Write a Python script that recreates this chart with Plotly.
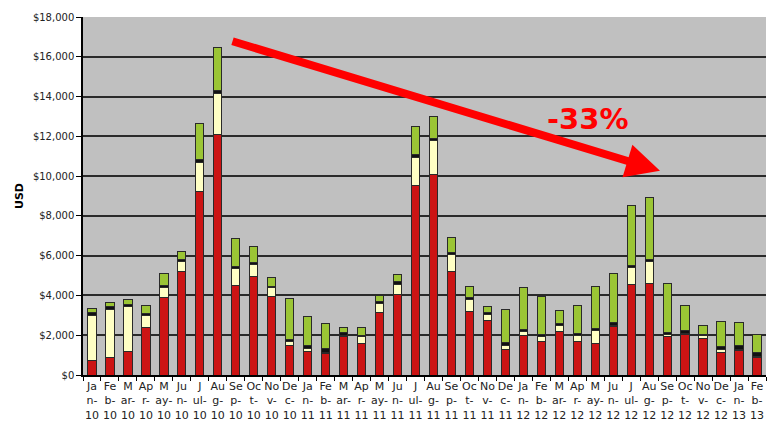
import plotly.graph_objects as go

months = ["Jan-10","Feb-10","Mar-10","Apr-10","May-10","Jun-10","Jul-10","Aug-10","Sep-10","Oct-10","Nov-10","Dec-10",
          "Jan-11","Feb-11","Mar-11","Apr-11","May-11","Jun-11","Jul-11","Aug-11","Sep-11","Oct-11","Nov-11","Dec-11",
          "Jan-12","Feb-12","Mar-12","Apr-12","May-12","Jun-12","Jul-12","Aug-12","Sep-12","Oct-12","Nov-12","Dec-12",
          "Jan-13","Feb-13"]
tick_labels = ["Ja<br>n-<br>10","Fe<br>b-<br>10","M<br>ar-<br>10","Ap<br>r-<br>10","M<br>ay-<br>10","Ju<br>n-<br>10",
               "J<br>ul-<br>10","Au<br>g-<br>10","Se<br>p-<br>10","Oc<br>t-<br>10","No<br>v-<br>10","De<br>c-<br>10",
               "Ja<br>n-<br>11","Fe<br>b-<br>11","M<br>ar-<br>11","Ap<br>r-<br>11","M<br>ay-<br>11","Ju<br>n-<br>11",
               "J<br>ul-<br>11","Au<br>g-<br>11","Se<br>p-<br>11","Oc<br>t-<br>11","No<br>v-<br>11","De<br>c-<br>11",
               "Ja<br>n-<br>12","Fe<br>b-<br>12","M<br>ar-<br>12","Ap<br>r-<br>12","M<br>ay-<br>12","Ju<br>n-<br>12",
               "J<br>ul-<br>12","Au<br>g-<br>12","Se<br>p-<br>12","Oc<br>t-<br>12","No<br>v-<br>12","De<br>c-<br>12",
               "Ja<br>n-<br>13","Fe<br>b-<br>13"]

red_vals = [750, 900, 1200, 2400, 3900, 5200, 9250, 12100, 4500, 4950, 3950, 1500,
            1200, 1100, 1950, 1600, 3150, 4050, 9550, 10100, 5200, 3200, 2750, 1300,
            2000, 1700, 2200, 1700, 1600, 2450, 4550, 4600, 1950, 2050, 1850, 1150,
            1250, 900]
yellow_vals = [2250, 2400, 2250, 600, 500, 500, 1450, 2050, 850, 620, 430, 180,
               150, 50, 20, 330, 450, 520, 1400, 1700, 880, 620, 280, 180,
               180, 250, 280, 300, 650, 30, 850, 1100, 100, 30, 130, 150,
               20, 20]
black_vals = [150, 120, 120, 80, 120, 100, 130, 150, 100, 100, 80, 100,
              130, 200, 150, 80, 100, 130, 120, 90, 100, 100, 120, 150,
              100, 80, 130, 80, 100, 180, 130, 100, 80, 150, 80, 150,
              200, 230]
green_vals = [200, 220, 230, 420, 580, 420, 1800, 2150, 1400, 800, 420, 2050,
              1450, 1230, 250, 370, 300, 340, 1400, 1100, 720, 540, 280, 1650,
              2130, 1900, 620, 1420, 2100, 2430, 2980, 3130, 2460, 1280, 450, 1250,
              1170, 880]

y_tickvals = [0, 2000, 4000, 6000, 8000, 10000, 12000, 14000, 16000, 18000]
y_ticktext = ["$0", "$2,000", "$4,000", "$6,000", "$8,000", "$10,000", "$12,000", "$14,000", "$16,000", "$18,000"]

series = [
    ("Red", red_vals, "#CC1414"),
    ("Yellow", yellow_vals, "#FFFFC4"),
    ("Black", black_vals, "#111111"),
    ("Green", green_vals, "#9BC535"),
]

fig = go.Figure()
for name, vals, col in series:
    fig.add_trace(go.Bar(
        x=months, y=vals, name=name,
        marker=dict(color=col, line=dict(color="#2a2a2a", width=1)),
    ))

fig.update_layout(
    barmode="stack",
    bargap=0.54,
    width=776, height=425,
    margin=dict(l=83, r=10, t=17, b=50),
    paper_bgcolor="white",
    plot_bgcolor="#C0C0C0",
    showlegend=False,
    font=dict(family="DejaVu Sans, Verdana, sans-serif", size=10, color="#222"),
)
fig.update_xaxes(
    tickmode="array", tickvals=months, ticktext=tick_labels,
    tickson="boundaries", ticks="outside", ticklen=4, tickcolor="black",
    showline=True, linecolor="black", linewidth=1.5,
    showgrid=False, tickangle=0, automargin=False,
    tickfont=dict(family="DejaVu Sans, Verdana, sans-serif", size=11, color="#222"),
)
fig.update_yaxes(
    range=[0, 18000], tickmode="array", tickvals=y_tickvals, ticktext=y_ticktext,
    ticks="outside", ticklen=5, tickcolor="black",
    showline=True, linecolor="black", linewidth=1.5,
    showgrid=True, gridcolor="#2a2a2a", gridwidth=1.5,
    zeroline=False, automargin=False,
    title=dict(text="<b>USD</b>", standoff=7,
               font=dict(family="DejaVu Sans, Verdana, sans-serif", size=11, color="black")),
    tickfont=dict(family="DejaVu Sans, Verdana, sans-serif", size=10, color="#222"),
)

# trend arrow (decoration) in paper coordinates
fig.add_annotation(
    xref="paper", yref="paper",
    x=(660 - 83) / 683, y=(375.5 - 171) / 358.5,
    axref="pixel", ayref="pixel",
    ax=-429, ay=-130,
    showarrow=True, arrowhead=2, arrowsize=0.85, arrowwidth=8,
    arrowcolor="#FF0000", text="", standoff=0, startstandoff=0,
)
fig.add_annotation(
    xref="paper", yref="paper",
    x=(587 - 83) / 683, y=(375.5 - 119) / 358.5,
    xanchor="center", yanchor="middle",
    text="<b>-33%</b>", showarrow=False,
    font=dict(family="DejaVu Sans, Verdana, sans-serif", size=29, color="#FF0000"),
)

fig.write_html("out.html", post_script="document.body.style.margin='0';",
               config={"displayModeBar": False})
